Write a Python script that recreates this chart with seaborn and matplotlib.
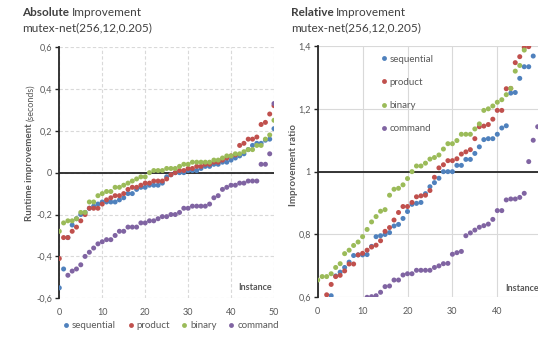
import numpy as np
import pandas as pd
import seaborn as sns
import matplotlib.pyplot as plt

nan = np.nan
instances = list(range(51))
methods = ['sequential', 'product', 'binary', 'command']
colors = ['#4F81BD', '#C0504D', '#9BBB59', '#8064A2']

# absolute improvement (seconds)
abs_sequential = [-0.55, -0.46, -0.31, -0.25, -0.22, -0.20, -0.19, -0.17, -0.16, -0.15,
                  -0.14, -0.14, -0.14, -0.14, -0.13, -0.12, -0.10, -0.10, -0.08, -0.07,
                  -0.07, -0.06, -0.06, -0.06, -0.05, -0.02, -0.01, 0.00, 0.00, 0.00,
                  0.01, 0.01, 0.01, 0.02, 0.03, 0.03, 0.04, 0.04, 0.05, 0.05,
                  0.06, 0.07, 0.08, 0.09, 0.11, 0.13, 0.14, 0.14, 0.155, 0.16, 0.21]
abs_product = [-0.41, -0.31, -0.31, -0.28, -0.26, -0.23, -0.20, -0.17, -0.17, -0.17,
               -0.15, -0.13, -0.12, -0.11, -0.11, -0.10, -0.08, -0.07, -0.07, -0.06,
               -0.05, -0.05, -0.04, -0.04, -0.04, -0.03, -0.01, 0.00, 0.01, 0.01,
               0.02, 0.02, 0.03, 0.03, 0.04, 0.04, 0.05, 0.05, 0.06, 0.07,
               0.08, 0.085, 0.13, 0.14, 0.16, 0.16, 0.17, 0.23, 0.24, 0.28, 0.32]
abs_binary = [-0.28, -0.24, -0.23, -0.23, -0.22, -0.19, -0.19, -0.14, -0.14, -0.11,
              -0.10, -0.09, -0.09, -0.07, -0.07, -0.06, -0.05, -0.04, -0.03, -0.02,
              -0.02, 0.00, 0.01, 0.01, 0.01, 0.02, 0.02, 0.02, 0.03, 0.04,
              0.04, 0.05, 0.05, 0.05, 0.05, 0.05, 0.06, 0.06, 0.07, 0.08,
              0.08, 0.09, 0.09, 0.10, 0.11, 0.11, 0.13, 0.13, 0.16, 0.18, 0.25]
abs_command = [nan, nan, -0.49, -0.47, -0.46, -0.44, -0.40, -0.38, -0.36, -0.34,
               -0.33, -0.32, -0.32, -0.30, -0.28, -0.28, -0.26, -0.26, -0.26, -0.24,
               -0.24, -0.23, -0.23, -0.22, -0.21, -0.21, -0.20, -0.20, -0.19, -0.17,
               -0.17, -0.16, -0.16, -0.16, -0.16, -0.15, -0.12, -0.11, -0.08, -0.07,
               -0.06, -0.06, -0.05, -0.05, -0.04, -0.04, -0.04, 0.04, 0.04, 0.09, 0.33]

# relative improvement (ratio)
rel_sequential = [nan, nan, nan, 0.605, 0.668, 0.68, 0.695, 0.712, 0.733, 0.735,
                  0.735, 0.736, 0.762, 0.793, 0.796, 0.80, 0.806, 0.827, 0.832, 0.851,
                  0.873, 0.896, 0.899, 0.902, 0.93, 0.952, 0.965, 0.979, 1.0, 1.0,
                  1.0, 1.02, 1.02, 1.039, 1.039, 1.058, 1.079, 1.102, 1.105, 1.105,
                  1.119, 1.139, 1.146, 1.25, 1.252, 1.297, 1.334, 1.334, 1.368, nan, nan]
rel_product = [nan, nan, 0.608, 0.641, 0.666, 0.67, 0.684, 0.706, 0.706, 0.735,
               0.74, 0.75, 0.76, 0.766, 0.78, 0.81, 0.822, 0.846, 0.87, 0.889,
               0.889, 0.902, 0.92, 0.923, 0.925, 0.94, 0.982, 1.012, 1.022, 1.035,
               1.035, 1.041, 1.056, 1.063, 1.07, 1.105, 1.143, 1.145, 1.15, 1.167,
               1.195, 1.195, 1.264, 1.265, 1.347, 1.366, 1.395, 1.398, nan, nan, nan]
rel_binary = [0.655, 0.666, 0.666, 0.675, 0.695, 0.707, 0.739, 0.75, 0.765, 0.776,
              0.793, 0.816, 0.84, 0.857, 0.874, 0.879, 0.925, 0.944, 0.947, 0.958,
              0.978, 1.0, 1.018, 1.018, 1.027, 1.04, 1.045, 1.053, 1.072, 1.089,
              1.089, 1.099, 1.119, 1.119, 1.119, 1.136, 1.152, 1.195, 1.2, 1.209,
              1.221, 1.229, 1.245, 1.265, 1.32, 1.338, 1.387, nan, nan, nan, nan]
rel_command = [nan, nan, nan, nan, nan, nan, nan, nan, nan, nan,
               nan, 0.60, 0.602, 0.605, 0.616, 0.634, 0.636, 0.655, 0.655, 0.671,
               0.675, 0.675, 0.686, 0.686, 0.686, 0.686, 0.695, 0.70, 0.707, 0.708,
               0.737, 0.742, 0.746, 0.796, 0.805, 0.814, 0.823, 0.828, 0.833, 0.848,
               0.876, 0.876, 0.91, 0.913, 0.913, 0.918, 0.931, 1.032, 1.10, 1.143, nan]

abs_ticks = [-0.6, -0.4, -0.2, 0, 0.2, 0.4, 0.6]
abs_labels = ['-0,6', '-0,4', '-0,2', '0', '0,2', '0,4', '0,6']
rel_ticks = [0.6, 0.8, 1.0, 1.2, 1.4]
rel_labels = ['0,6', '0,8', '1', '1,2', '1,4']
abs_xticks = [0, 10, 20, 30, 40, 50]
rel_xticks = [0, 10, 20, 30, 40]


def long_frame(series):
    rows = []
    for name, vals in zip(methods, series):
        for i, v in zip(instances, vals):
            rows.append((i, v, name))
    return pd.DataFrame(rows, columns=['instance', 'value', 'method']).dropna()


df_abs = long_frame([abs_sequential, abs_product, abs_binary, abs_command])
df_rel = long_frame([rel_sequential, rel_product, rel_binary, rel_command])

sns.set_style('white')
plt.rcParams['font.family'] = ['Lato', 'DejaVu Sans']

W, H = 538, 346
fig = plt.figure(figsize=(W / 100, H / 100), dpi=100)
ax1 = fig.add_axes([59.3 / W, 47.7 / H, 214.7 / W, 251.3 / H])
ax2 = fig.add_axes([317.7 / W, 48.7 / H, 224.5 / W, 251.3 / H])
pal = dict(zip(methods, colors))
grey = '#595959'


def style(ax, df, xticks, yticks, ylabels, base, ls):
    sns.scatterplot(data=df, x='instance', y='value', hue='method', hue_order=methods,
                    palette=pal, s=13, linewidth=0, ax=ax, zorder=3)
    ax.set_xlim(0, 50)
    ax.set_ylim(yticks[0], yticks[-1])
    ax.set_xticks(xticks)
    ax.set_yticks(yticks)
    ax.set_yticklabels(ylabels)
    ax.grid(True, color='#d9d9d9', ls=ls, lw=0.8)
    for s in ['top', 'right', 'bottom']:
        ax.spines[s].set_visible(False)
    ax.spines['left'].set_color('#262626')
    ax.spines['left'].set_linewidth(1.3)
    ax.axhline(base, color='#262626', lw=1.3, zorder=2)
    ax.tick_params(axis='y', left=True, length=3, width=1, color='#262626',
                   labelsize=6.5, labelcolor=grey, pad=2)
    ax.tick_params(axis='x', length=0, labelsize=6.5, labelcolor=grey, pad=7)
    ax.set_xlabel('')
    ax.set_ylabel('')


style(ax1, df_abs, abs_xticks, abs_ticks, abs_labels, 0, (0, (3, 2)))
style(ax2, df_rel, rel_xticks, rel_ticks, rel_labels, 1.0, '-')
# vertical grid line at 50 on the right chart falls just past the edge
ax2.axvline(50, color='#d9d9d9', lw=0.8, zorder=0)

handles, labels = ax1.get_legend_handles_labels()
ax1.get_legend().remove()
ax2.get_legend().remove()
for h in handles:
    h.set_markersize(3.5)

fig.legend(handles, labels, loc='center', bbox_to_anchor=(171 / W, 1 - 326 / H), ncol=4,
           frameon=False, fontsize=7, labelcolor=grey, handlelength=0.6,
           handletextpad=0.3, columnspacing=1.2)
ax2.legend(handles, labels, loc='upper left', bbox_to_anchor=((372 - 317.7) / 224.5, 1.0),
           frameon=False, fontsize=7, labelcolor=grey, handlelength=0.6,
           handletextpad=0.3, labelspacing=1.45)

ax1.text(0.989, 0.042, 'Instance', transform=ax1.transAxes, ha='right', va='center',
         fontsize=6.5, weight='bold', color=grey)
ax2.text(0.837, 0.037, 'Instance', transform=ax2.transAxes, ha='left', va='center',
         fontsize=6.5, weight='bold', color=grey)

r = fig.canvas.get_renderer()
for x0, word in [(22, 'Absolute'), (290.7, 'Relative')]:
    t = fig.text(x0 / W, 1 - 12 / H, word, weight='bold', fontsize=8.5, va='center', color='#404040')
    bb = t.get_window_extent(r)
    fig.text((bb.x1 + 2.5) / W, 1 - 12 / H, 'Improvement', fontsize=8.5, va='center', color='#404040')
    fig.text(x0 / W, 1 - 27.5 / H, 'mutex-net(256,12,0.205)', fontsize=8.5, va='center', color='#404040')

t = fig.text(30 / W, 1 - 221 / H, 'Runtime improvement', rotation=90, ha='center', va='bottom',
             weight='bold', fontsize=7, color=grey)
bb = t.get_window_extent(r)
fig.text(30.5 / W, (bb.y1 + 2) / H, '(seconds)', rotation=90, ha='center', va='bottom',
         fontsize=6.5, color=grey)
fig.text(293.5 / W, 1 - 165.5 / H, 'Improvement ratio', rotation=90, ha='center', va='center',
         weight='bold', fontsize=7, color=grey)

fig.savefig('out.png', dpi=100)
